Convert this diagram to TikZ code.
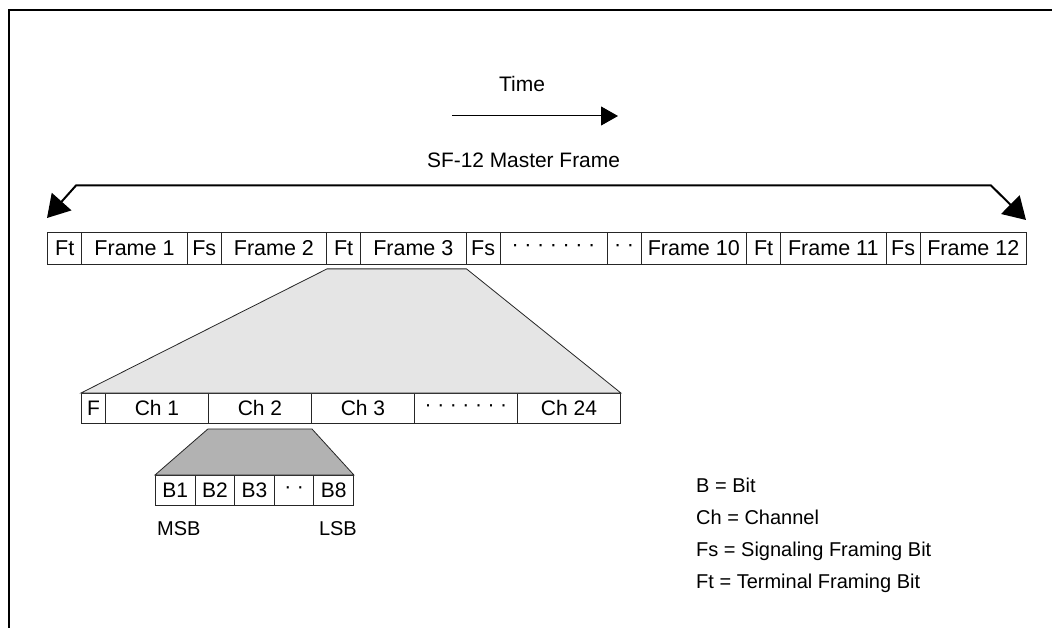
\documentclass[tikz,border=0pt]{standalone}
\usepackage{fontspec}
\setmainfont{Liberation Sans}
\usetikzlibrary{arrows.meta,calc}
\tikzset{
  txt/.style={inner sep=0pt, font=\fontsize{20}{24}\selectfont},
  cell/.style={txt, draw=black!85, line width=0.9pt, minimum height=#1, anchor=north west},
  cell/.default=32pt,
  cellA/.style={cell=32pt, font=\fontsize{21.5}{25}\selectfont},
  cellB/.style={cell=30pt, font=\fontsize{21}{25}\selectfont},
  trapA/.style={draw=black!85, line width=0.8pt, fill=black!10},
  trapB/.style={draw=black!85, line width=0.8pt, fill=black!30},
  bigarrow/.style={line width=2pt, {Triangle[length=22pt,width=26pt]}-{Triangle[length=22pt,width=26pt]}},
  timearrow/.style={line width=1pt, -{Triangle[length=17pt,width=19pt]}},
}
\newcommand\dotsseven{·\hspace{5.6pt}·\hspace{5.6pt}·\hspace{5.6pt}·\hspace{5.6pt}·\hspace{5.6pt}·\hspace{5.6pt}·}
\newcommand\dotstwo{·\hspace{5.6pt}·}
\begin{document}
\begin{tikzpicture}[x=1pt,y=-1pt]
\useasboundingbox (0,0) rectangle (1052,628);
% frame border (top and left edges)
\draw[line width=2.2pt, line join=miter] (8.7,628) -- (8.7,10) -- (1052,10);

% time arrow
\node[txt, font=\fontsize{21}{25}\selectfont] (time) at (522,84) {Time};
\coordinate (t0) at (452,116);
\coordinate (t1) at (618,116);
\draw[timearrow] (t0) -- (t1);

% master frame arrow
\node[txt, font=\fontsize{20.9}{25}\selectfont] (sf) at (523.5,160) {SF-12 Master Frame};
\coordinate (la) at (47,218);
\coordinate (lb) at (76,185.5);
\coordinate (rb) at (991,185.5);
\coordinate (ra) at (1026,220);
\draw[bigarrow, line join=miter] (la) -- (lb) -- (rb) -- (ra);

% frame row
\node[cellA, minimum width=34pt]    (f1)  at (47.3,232)  {Ft};
\node[cellA, minimum width=105.5pt] (f2)  at (81.3,232)  {Frame 1};
\node[cellA, minimum width=34pt]    (f3)  at (186.8,232) {Fs};
\node[cellA, minimum width=105.3pt] (f4)  at (220.8,232) {Frame 2};
\node[cellA, minimum width=34pt]    (f5)  at (326.1,232) {Ft};
\node[cellA, minimum width=105.5pt] (f6)  at (360.1,232) {Frame 3};
\node[cellA, minimum width=34pt]    (f7)  at (465.6,232) {Fs};
\node[cellA, minimum width=107pt]   (f8)  at (499.6,232) {\dotsseven};
\node[cellA, minimum width=34pt]    (f9)  at (606.6,232) {\dotstwo};
\node[cellA, minimum width=105.5pt] (f10) at (640.6,232) {Frame 10};
\node[cellA, minimum width=34pt]    (f11) at (746.1,232) {Ft};
\node[cellA, minimum width=105.5pt] (f12) at (780.1,232) {Frame 11};
\node[cellA, minimum width=34pt]    (f13) at (885.6,232) {Fs};
\node[cellA, minimum width=106.4pt] (f14) at (919.6,232) {Frame 12};

% channel row
\node[cellB, minimum width=24pt]  (c0) at (81,393)  {F};
\node[cellB, minimum width=103pt] (c1) at (105,393) {Ch 1};
\node[cellB, minimum width=103pt] (c2) at (208,393) {Ch 2};
\node[cellB, minimum width=103pt] (c3) at (311,393) {Ch 3};
\node[cellB, minimum width=103pt] (c4) at (414,393) {\dotsseven};
\node[cellB, minimum width=103pt] (c5) at (517,393) {Ch 24};

% bit row
\node[cellB, minimum width=39.6pt] (b1) at (155,475)   {B1};
\node[cellB, minimum width=39.6pt] (b2) at (194.6,475) {B2};
\node[cellB, minimum width=39.6pt] (b3) at (234.2,475) {B3};
\node[cellB, minimum width=39.6pt] (b4) at (273.8,475) {\dotstwo};
\node[cellB, minimum width=39.6pt] (b5) at (313.4,475) {B8};

% expansion trapezoids
\draw[trapA] ($(f4.south east)+(0,4)$) -- ($(f6.south east)+(0,4)$) -- (c5.north east) -- (c0.north west) -- cycle;
\draw[trapB] ($(c2.south west)+(0,5)$) -- ($(c2.south east)+(0,5)$) -- (b5.north east) -- (b1.north west) -- cycle;

% MSB / LSB
\node[txt, anchor=base west] (msb) at (157,535) {MSB};
\node[txt, anchor=base east] (lsb) at (357,535) {LSB};

% legend
\node[txt, anchor=base west] (l1) at (696,492) {B = Bit};
\node[txt, anchor=base west] (l2) at (696,524) {Ch = Channel};
\node[txt, anchor=base west] (l3) at (696,556) {Fs = Signaling Framing Bit};
\node[txt, anchor=base west] (l4) at (696,588) {Ft = Terminal Framing Bit};
\end{tikzpicture}
\end{document}
